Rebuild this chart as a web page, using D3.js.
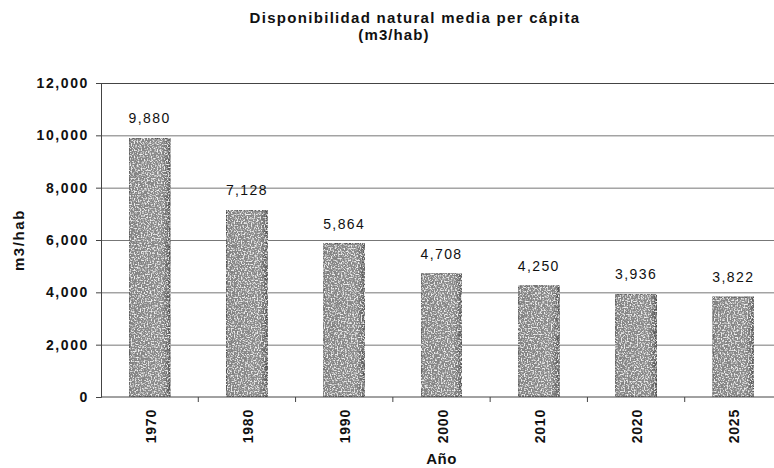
<!DOCTYPE html>
<html>
<head>
<meta charset="utf-8">
<script src="https://cdn.jsdelivr.net/npm/d3@7"></script>
<style>
  body { margin: 0; background: #fff; }
  text { font-family: "Liberation Sans", Arial, sans-serif; fill: #111; }
  .bold { font-weight: bold; }
</style>
</head>
<body>
<script>
(function() {
    var w = 774,
        h = 468;
    // data
    var years = ['1970', '1980', '1990', '2000', '2010', '2020', '2025'];
    var values = [9880, 7128, 5864, 4708, 4250, 3936, 3822];
    var yTicks = [0, 2000, 4000, 6000, 8000, 10000, 12000];

    var left = 101, right = 782, top = 83, bottom = 397;

    var svg = d3.select('body')
        .append('svg')
        .attr('width', w)
        .attr('height', h);

    // grainy grey fill like the scanned bars
    var defs = svg.append('defs');
    var grad = defs.append('linearGradient').attr('id', 'barGrad');
    grad.append('stop').attr('offset', '0%').attr('stop-color', '#7c7c7c');
    grad.append('stop').attr('offset', '80%').attr('stop-color', '#8e8e8e');
    grad.append('stop').attr('offset', '92%').attr('stop-color', '#5a5a5a');
    grad.append('stop').attr('offset', '100%').attr('stop-color', '#222');
    var f = defs.append('filter').attr('id', 'grain')
        .attr('x', 0).attr('y', 0).attr('width', 1).attr('height', 1);
    f.append('feTurbulence').attr('type', 'fractalNoise')
        .attr('baseFrequency', 0.7).attr('numOctaves', 1).attr('seed', 3)
        .attr('result', 'noise');
    // dark specks
    f.append('feColorMatrix').attr('in', 'noise').attr('type', 'matrix')
        .attr('values', '0 0 0 0 0.25  0 0 0 0 0.25  0 0 0 0 0.25  -5 0 0 0 2.6')
        .attr('result', 'dark');
    // light specks
    f.append('feColorMatrix').attr('in', 'noise').attr('type', 'matrix')
        .attr('values', '0 0 0 0 0.85  0 0 0 0 0.85  0 0 0 0 0.85  5 0 0 0 -2.4')
        .attr('result', 'light');
    f.append('feComposite').attr('in', 'dark').attr('in2', 'SourceGraphic')
        .attr('operator', 'atop').attr('result', 'mix1');
    f.append('feComposite').attr('in', 'light').attr('in2', 'SourceGraphic')
        .attr('operator', 'in').attr('result', 'mix2');
    f.append('feMerge').call(function(m) {
        m.append('feMergeNode').attr('in', 'mix1');
        m.append('feMergeNode').attr('in', 'mix2');
    });

    var x = d3.scaleBand()
        .domain(years)
        .range([left, right])
        .padding(0);
    var barW = x.bandwidth() * 0.42;

    var y = d3.scaleLinear()
        .domain([0, 12000])
        .range([bottom, top]);

    // gridlines
    svg.append('g')
        .selectAll('line')
        .data(yTicks.slice(1))
        .enter()
        .append('line')
        .attr('x1', left)
        .attr('x2', w)
        .attr('y1', function(d) { return y(d) + 0.5; })
        .attr('y2', function(d) { return y(d) + 0.5; })
        .attr('stroke', function(d) { return d === 12000 ? '#444' : '#777'; })
        .attr('stroke-width', 1);

    // left axis
    var yAxis = svg.append('g')
        .attr('transform', 'translate(' + left + ',0)')
        .call(d3.axisLeft(y).tickValues(yTicks).tickSize(5).tickFormat(d3.format(',')));
    yAxis.select('.domain').attr('stroke', '#444');
    yAxis.selectAll('.tick line').attr('stroke', '#444');
    yAxis.selectAll('.tick text')
        .attr('class', 'bold')
        .attr('x', -12)
        .style('font-size', '14px')
        .style('letter-spacing', '1.6px')
        .style('font-family', '"Liberation Sans", Arial, sans-serif')
        .attr('fill', '#111');

    // bars
    svg.append('g')
        .selectAll('rect')
        .data(values)
        .enter()
        .append('rect')
        .attr('x', function(d, i) { return x(years[i]) + (x.bandwidth() - barW) / 2; })
        .attr('y', function(d) { return y(d); })
        .attr('width', barW)
        .attr('height', function(d) { return y(0) - y(d); })
        .attr('fill', 'url(#barGrad)')
        .attr('stroke', '#222')
        .attr('stroke-width', 1)
        .attr('filter', 'url(#grain)');

    // value labels
    svg.append('g')
        .selectAll('text')
        .data(values)
        .enter()
        .append('text')
        .attr('x', function(d, i) { return x(years[i]) + x.bandwidth() / 2; })
        .attr('y', function(d) { return y(d) - 15; })
        .attr('text-anchor', 'middle')
        .style('font-size', '14px')
        .style('letter-spacing', '1.4px')
        .text(d3.format(','));

    // bottom axis, ticks at category boundaries
    var xAxis = svg.append('g')
        .attr('transform', 'translate(0,' + bottom + ')');
    xAxis.append('line')
        .attr('x1', left).attr('x2', w)
        .attr('stroke', '#444');
    xAxis.selectAll('line.tk')
        .data(years.slice(1))
        .enter()
        .append('line')
        .attr('class', 'tk')
        .attr('x1', function(d) { return x(d); })
        .attr('x2', function(d) { return x(d); })
        .attr('y2', 5)
        .attr('stroke', '#444');
    xAxis.selectAll('text')
        .data(years)
        .enter()
        .append('text')
        .attr('class', 'bold')
        .attr('transform', function(d) {
            return 'translate(' + (x(d) + x.bandwidth() / 2 + 6) + ',12) rotate(-90)';
        })
        .attr('text-anchor', 'end')
        .style('font-size', '14px')
        .style('letter-spacing', '0.8px')
        .text(function(d) { return d; });

    // titles
    svg.append('text')
        .attr('class', 'bold')
        .attr('x', 415).attr('y', 23)
        .attr('text-anchor', 'middle')
        .style('font-size', '15px')
        .style('letter-spacing', '1.3px')
        .text('Disponibilidad natural media per cápita');
    svg.append('text')
        .attr('class', 'bold')
        .attr('x', 394).attr('y', 40)
        .attr('text-anchor', 'middle')
        .style('font-size', '15px')
        .style('letter-spacing', '1.1px')
        .text('(m3/hab)');
    svg.append('text')
        .attr('class', 'bold')
        .attr('transform', 'translate(24,' + ((top + bottom) / 2) + ') rotate(-90)')
        .attr('text-anchor', 'middle')
        .style('font-size', '15px')
        .style('letter-spacing', '1.6px')
        .text('m3/hab');
    svg.append('text')
        .attr('class', 'bold')
        .attr('x', (left + right) / 2).attr('y', 464)
        .attr('text-anchor', 'middle')
        .style('font-size', '15px')
        .style('letter-spacing', '0.5px')
        .text('Año');
})();
</script>
</body>
</html>
